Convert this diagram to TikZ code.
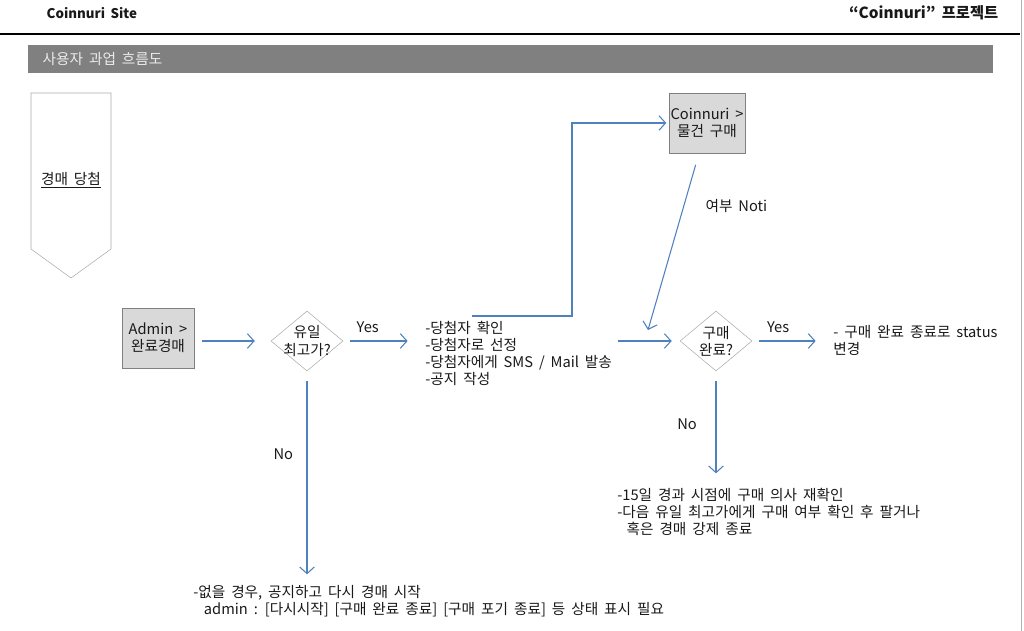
\documentclass[tikz,border=0pt]{standalone}
\usepackage{fontspec}
\setmainfont[WordSpace=1.8]{Noto Sans CJK KR}
\usepackage{tikz}
\usetikzlibrary{positioning,arrows.meta,shapes.geometric}
\definecolor{flowblue}{RGB}{79,129,189}
\definecolor{boxgray}{RGB}{217,217,217}
\definecolor{edgegray}{RGB}{128,128,128}
\definecolor{diagray}{RGB}{170,170,170}
\definecolor{bargray}{RGB}{128,128,128}
\tikzset{
  page/.style   ={font=\fontsize{11}{12.8}\selectfont, text=black!90},
  box/.style    ={draw=edgegray, fill=boxgray, rectangle, align=center, minimum width=54pt, minimum height=45pt, inner sep=1pt},
  dia/.style    ={draw=diagray, diamond, align=center, aspect=1.2, minimum width=54pt, minimum height=45pt, inner sep=-3pt},
  note/.style   ={align=left, anchor=north west, inner sep=0pt},
  lbl/.style    ={inner sep=0pt},
  arr/.style    ={draw=flowblue, -{Straight Barb[length=5pt, width=11pt]}, thick},
}

\begin{document}
\begin{tikzpicture}[x=0.75pt, y=-0.75pt, page]
  \useasboundingbox (0,0) rectangle (1024,631);

  % header
  \node[anchor=west, font=\fontsize{10}{12}\selectfont\bfseries] (site) at (42,13) {Coinnuri Site};
  \node[anchor=east, font=\fontsize{11.5}{14}\selectfont\bfseries] (proj) at (1003,13) {“Coinnuri” 프로젝트};
  \draw[line width=2.2pt] (0,34) -- (1020,34);
  \draw[black!30] (1021,0) -- (1021,631);
  \fill[bargray] (28,45) rectangle (993,73);
  \node[anchor=west, text=white!92!black] (title) at (38,59) {사용자 과업 흐름도};

  % start marker
  \draw[diagray] (31,93) -- (111,93) -- (111,249) -- (71,278) -- (31,249) -- cycle;
  \node (win) at (71,180) {\underline{경매 당첨}};

  % flow
  \node[box] (admin) at (158,338) {Admin >\\완료경매};
  \node[dia] (q1)    at (307,341) {유일\\최고가?};
  \node[note] (steps) at (425,321) {-당첨자 확인\\-당첨자로 선정\\-당첨자에게 SMS / Mail 발송\\-공지 작성};
  \node[box] (buy)   at (707,123) {Coinnuri >\\물건 구매};
  \node[dia] (q2)    at (716,341) {구매\\완료?};
  \node[note] (done) at (833,325) {- 구매 완료 종료로 status\\변경};
  \node[note] (retry) at (617,488) {-15일 경과 시점에 구매 의사 재확인\\-다음 유일 최고가에게 구매 여부 확인 후 팔거나\\\hspace*{7pt}혹은 경매 강제 종료};
  \node[note] (restart) at (193,585) {-없을 경우, 공지하고 다시 경매 시작\\\hspace*{8pt}admin : [다시시작] [구매 완료 종료] [구매 포기 종료] 등 상태 표시 필요};

  \coordinate (fork) at (472,316);
  \coordinate (notiend) at (648,330);

  % arrows
  \draw[arr, shorten <=6pt, shorten >=12pt] (admin.east |- q1.west) -- (q1.west);
  \draw[arr, shorten <=5pt, shorten >=13pt] (q1.east) -- (q1.east -| steps.west)
       node[lbl, pos=0.3, above=6pt]{Yes};
  \draw[arr, shorten <=4pt, shorten >=6pt] (q2.west -| steps.east) -- (q2.west);
  \draw[arr, shorten >=2pt] (fork) -- ++(100,0) |- (buy.west);
  \draw[arr, shorten <=9pt] ([xshift=-6pt]buy.south) -- (notiend)
       node[lbl, pos=0.3, right=16pt]{여부 Noti};
  \draw[arr, shorten <=5pt, shorten >=13pt] (q2.east) -- (q2.east -| done.west)
       node[lbl, pos=0.32, above=6pt]{Yes};
  \draw[arr, shorten <=7pt, shorten >=11pt] (q2.south) -- (q2.south |- retry.north)
       node[lbl, pos=0.45, left=14pt]{No};
  \draw[arr, shorten <=7pt, shorten >=8pt] (q1.south) -- (q1.south |- restart.north)
       node[lbl, pos=0.39, left=10pt]{No};
\end{tikzpicture}
\end{document}
